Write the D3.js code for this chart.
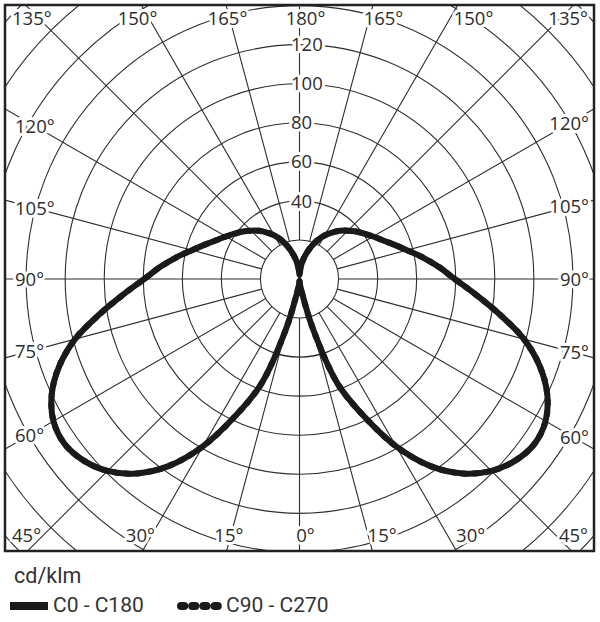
<!DOCTYPE html>
<html>
<head>
<meta charset="utf-8">
<script src="https://cdn.jsdelivr.net/npm/d3@7/dist/d3.min.js"></script>
<style>
 html,body{margin:0;padding:0;background:#fff;}
 svg{display:block;}
</style>
</head>
<body>
<div id="chart"></div>
<script>
(function(){
// gamma angles (deg from nadir), one value per angle for each half plane (cd/klm)
const gammas=[0,5,10,15,20,25,30,35,40,45,50,55,60,65,70,75,80,85,90,95,100,105,110,115,120,125,130,135,140,145,150,155,160,165,170,175,180];
const c0=[1,3,7,26,57,77,99,117,130,139,144.5,147,145.5,140,131,119,104,90.5,79.5,71.5,64,57,51.5,47,43.5,40.5,37.8,35,32.2,29,25.8,22,17.8,13.5,9.5,5.5,2];
const c180=[1,3,7,26,57,77,99,117,130,139,144.5,147,145.5,140,131,119,104,90.5,79.5,71.5,64,57,51.5,47,43.5,40.5,37.8,35,32.2,29,25.8,22,17.8,13.5,9.5,5.5,2];
const c90=[1,3,7,26,57,77,99,117,130,139,144.5,147,145.5,140,131,119,104,90.5,79.5,71.5,64,57,51.5,47,43.5,40.5,37.8,35,32.2,29,25.8,22,17.8,13.5,9.5,5.5,2];
const c270=[1,3,7,26,57,77,99,117,130,139,144.5,147,145.5,140,131,119,104,90.5,79.5,71.5,64,57,51.5,47,43.5,40.5,37.8,35,32.2,29,25.8,22,17.8,13.5,9.5,5.5,2];
const rings=[20,40,60,80,100,120,140,160,180,200];
const ringLabels=[40,60,80,100,120];
const spokes=d3.range(0,360,15);
const angleLabels=[0,15,30,45,60,75,90,105,120,135,150,165,180];
const unit='cd/klm';
const legendItems=['C0 - C180','C90 - C270'];

const W=600,H=622;
const fx0=5,fy0=5,fx1=594,fy1=551;
const cx=299.5,cy=279;
const r=d3.scaleLinear().domain([0,140]).range([0,273.4]);
const ink='#2d2d2d';
const labFont='"Open Sans", "DejaVu Sans", sans-serif';

const svg=d3.select('#chart').append('svg').attr('width',W).attr('height',H);
svg.append('defs').append('clipPath').attr('id','frameclip')
 .append('rect').attr('x',fx0).attr('y',fy0).attr('width',fx1-fx0).attr('height',fy1-fy0);

const grid=svg.append('g').attr('clip-path','url(#frameclip)');
const pc=grid.append('g').attr('transform',`translate(${cx},${cy})`);
pc.selectAll('circle').data(rings).enter().append('circle')
 .attr('r',d=>r(d)).attr('fill','none').attr('stroke',ink).attr('stroke-width',1.1);
// spokes start at inner ring; angle measured from straight down
pc.selectAll('line.spoke').data(spokes).enter().append('line').attr('class','spoke')
 .attr('x1',d=>r(20)*Math.sin(d*Math.PI/180)).attr('y1',d=>r(20)*Math.cos(d*Math.PI/180))
 .attr('x2',d=>r(230)*Math.sin(d*Math.PI/180)).attr('y2',d=>r(230)*Math.cos(d*Math.PI/180))
 .attr('stroke',ink).attr('stroke-width',1.1);

// ring value labels
const halo=sel=>sel.attr('stroke','#fff').attr('stroke-width',6).attr('paint-order','stroke').attr('stroke-linejoin','round');
svg.append('g').selectAll('text').data(ringLabels).enter().append('text')
 .attr('x',291).attr('y',d=>cy-r(d)).attr('dy','0.36em')
 .attr('font-family',labFont).attr('font-size',18.5).attr('fill',ink)
 .text(d=>d).call(halo);

// angle labels along the frame
const lab=[];
angleLabels.forEach(g=>{
 if(g===0||g===180) lab.push({g,side:0});
 else {lab.push({g,side:-1});lab.push({g,side:1});}
});
const lg=svg.append('g');
lab.forEach(d=>{
 const t=lg.append('text').attr('font-family',labFont).attr('font-size',18.5).attr('fill',ink)
  .attr('text-anchor','middle').attr('dy','0.36em').text(d.g+'°').call(halo);
 const w=t.node().getComputedTextLength();
 const rad=d.g*Math.PI/180, dx=Math.sin(rad), dy=Math.cos(rad);
 let x,y;
 if(d.g<=45||d.g>=135){
  y=d.g<=45?fy1-16:fy0+13;
  const tn=Math.abs(dx/dy);
  x=cx+d.side*tn*Math.abs(y-cy)+d.side*30*tn+6;
  x=Math.max(fx0+w/2+7,Math.min(fx1-w/2-6,x));
 } else {
  x=d.side<0?15+w/2:589-w/2;
  y=cy+dy/dx*Math.abs(x-cx);
 }
 t.attr('x',x).attr('y',y);
});

// distribution curves
const deg=Math.PI/180;
function ring(right,left,dash){
 const pts=gammas.map((g,i)=>[Math.PI+g*deg,r(left[i])]).reverse()
  .concat(gammas.slice(1,-1).map((g,i)=>[Math.PI-g*deg,r(right[i+1])]));
 const line=d3.lineRadial().angle(d=>d[0]).radius(d=>d[1]).curve(d3.curveCatmullRomClosed.alpha(0.5));
 const p=svg.append('path').attr('transform',`translate(${cx},${cy})`).attr('d',line(pts))
  .attr('fill','none').attr('stroke','#1a1a1a').attr('stroke-width',6).attr('stroke-linejoin','round');
 if(dash) p.attr('stroke-dasharray',dash).attr('stroke-linecap','round');
}
ring(c90,c270,'3.2 8');
ring(c0,c180,null);

// frame
svg.append('rect').attr('x',fx0).attr('y',fy0).attr('width',fx1-fx0).attr('height',fy1-fy0)
 .attr('fill','none').attr('stroke','#222').attr('stroke-width',2.5);

// legend
const legFont='Roboto, "Open Sans", sans-serif';
svg.append('text').attr('x',14).attr('y',583).attr('font-family',legFont).attr('font-size',21.5).attr('fill','#333').text(unit);
const leg=svg.append('g');
leg.append('line').attr('x1',10).attr('x2',48).attr('y1',606).attr('y2',606).attr('stroke','#1a1a1a').attr('stroke-width',8);
leg.append('text').attr('x',53).attr('y',612).attr('font-family',legFont).attr('font-size',21).attr('fill','#333').text(legendItems[0]);
leg.append('line').attr('x1',181).attr('x2',218).attr('y1',606).attr('y2',606).attr('stroke','#1a1a1a').attr('stroke-width',8)
 .attr('stroke-dasharray','3.2 8').attr('stroke-linecap','round');
leg.append('text').attr('x',226).attr('y',612).attr('font-family',legFont).attr('font-size',21).attr('fill','#333').text(legendItems[1]);
})();
</script>
</body>
</html>
